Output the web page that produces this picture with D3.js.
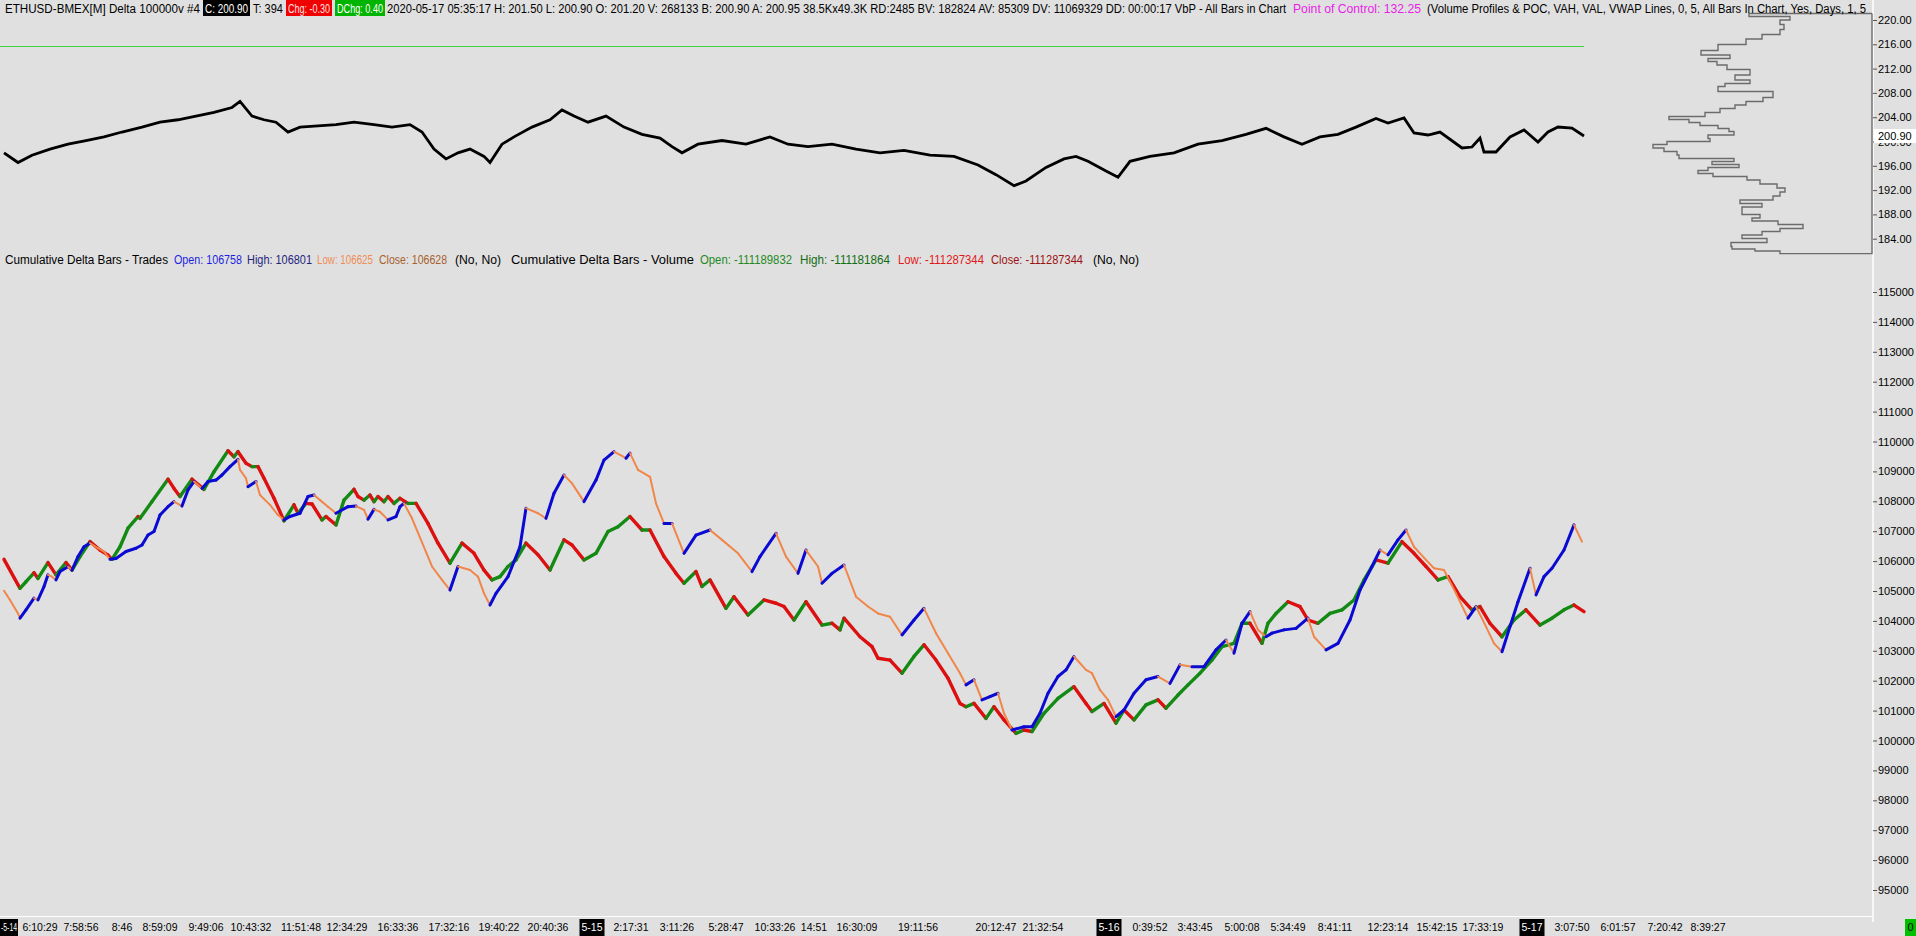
<!DOCTYPE html>
<html>
<head>
<meta charset="utf-8">
<script src="https://cdn.jsdelivr.net/npm/d3@7"></script>
<style>
  body { margin: 0; background: #e0e0e0; overflow: hidden; }
  svg { display: block; }
  text { font-family: "Liberation Sans", Arial, sans-serif; font-size: 12px; }
</style>
</head>
<body>
<svg id="chart"></svg>
<script>
// ---- data ----
// price bars (bar index, last price) for the top panel
const priceLine = [
  [2,198.14],[9,196.54],[16,197.75],[25,198.75],[34,199.56],[43,200.16],[52,200.76],[61,201.56],
  [71,202.37],[80,203.18],[89,203.58],[98,204.18],[107,204.79],[116,205.60],[120,206.60],[126,204.18],
  [132,203.58],[138,203.18],[144,201.56],[150,202.37],[159,202.57],[168,202.78],[177,203.18],[187,202.78],
  [196,202.37],[205,202.78],[211,201.56],[217,198.75],[223,197.14],[229,198.14],[235,198.75],[242,197.55],
  [245,196.54],[251,199.56],[257,200.76],[266,202.37],[275,203.58],[281,205.19],[287,204.18],[294,203.18],
  [303,204.18],[312,202.37],[321,201.17],[330,200.56],[336,199.16],[341,198.14],[349,199.56],[361,200.16],
  [373,199.56],[385,200.76],[394,199.56],[404,199.16],[416,199.56],[428,198.75],[440,198.14],[452,198.55],
  [465,197.75],[477,197.55],[489,196.13],[498,194.54],[507,192.72],[513,193.51],[523,195.74],[532,197.14],
  [538,197.55],[544,196.74],[553,195.13],[559,194.12],[565,196.74],[575,197.55],[587,198.14],[599,199.56],
  [611,200.16],[623,201.17],[633,202.17],[642,200.76],[651,199.56],[660,200.76],[669,201.17],[678,202.37],
  [688,203.79],[694,203.05],[702,203.87],[707,201.40],[714,201.07],[720,201.56],[731,198.93],[736,199.09],
  [740,200.58],[742,198.27],[748,198.27],[755,200.74],[762,201.89],[769,199.92],[774,201.56],[779,202.39],
  [786,202.22],[792,200.90]
];
const lastPrice = 200.90;
const studyLevel = 215.64;   // green study line
const priceTicks = [184, 188, 192, 196, 200, 204, 208, 212, 216, 220];

// volume by price (price, volume in hundreds of contracts)
const profileLevels = [
  [220.82,1230],[220.33,820],[219.67,920],[218.85,880],[218.03,920],[217.20,1100],[216.54,1260],[215.39,1540],
  [214.57,1710],[213.91,1420],[213.42,1640],[212.92,1550],[212.26,1450],[211.44,1220],[210.45,1370],[209.80,1220],
  [209.30,1470],[208.81,1540],[207.65,990],[206.83,1090],[206.34,1260],[205.68,1370],[205.19,1520],[204.36,1670],
  [203.87,2030],[203.37,1830],[202.88,1720],[202.39,1540],[201.89,1430],[201.40,1380],[200.74,1640],[200.25,1620],
  [199.75,2050],[199.26,2190],[198.60,2080],[198.11,1950],[197.45,1930],[196.95,1380],[196.46,1600],[195.97,1330],
  [195.47,1640],[194.98,1740],[194.49,1590],[193.99,1250],[193.33,1120],[192.67,950],[192.02,870],[191.36,920],
  [190.70,990],[190.04,1320],[189.55,1100],[188.89,1300],[188.23,1300],[187.74,1120],[187.08,1200],[186.75,940],
  [185.93,690],[185.42,920],[184.94,1100],[184.28,1300],[183.79,1050],[182.96,1410],[182.47,1400],[182.14,1170],
  [181.80,920]
];

// cumulative delta - trades (bar index, value)
const tradesDelta = [
  [2,105010],[5,104700],[9,104250],[10,104090],[13,104370],[17,104760],[19,104700],[22,105150],[24,105540],
  [26,105480],[28,105370],[30,105650],[34,105810],[36,105700],[39,106150],[42,106480],[45,106600],[49,106430],
  [52,106320],[55,106060],[58,106090],[63,106320],[68,106430],[71,106540],[74,106870],[77,106990],[80,107540],
  [84,107820],[87,107990],[91,107840],[94,108380],[97,108660],[101,108430],[104,108660],[108,108710],[111,108880],
  [115,109160],[119,109400],[120,109050],[123,108770],[124,108490],[128,108660],[130,108210],[135,107880],
  [139,107540],[142,107380],[145,107490],[150,107600],[154,108160],[157,108210],[160,108040],[164,107820],
  [168,107600],[174,107820],[178,107840],[182,107710],[184,107400],[187,107730],[190,107650],[194,107380],
  [198,107490],[200,107820],[202,107930],[206,107430],[216,105820],[221,105370],[225,105030],[229,105820],
  [235,105700],[239,105480],[242,104920],[245,104530],[248,104920],[254,105480],[260,106480],[263,107770],
  [269,107600],[273,107430],[277,108270],[282,108880],[286,108600],[292,107990],[298,108710],[302,109380],
  [307,109660],[313,109440],[315,109610],[319,109050],[325,108820],[328,107930],[332,107260],[336,107260],
  [342,106260],[348,106870],[355,107040],[361,106710],[369,106260],[376,105650],[380,106150],[388,106930],
  [393,106150],[399,105590],[403,106370],[409,105820],[411,105260],[416,105590],[422,105870],[428,104810],
  [434,104480],[439,104250],[445,104140],[451,103530],[457,104030],[462,104420],[468,103590],[474,102920],
  [480,102250],[483,101860],[487,102030],[491,101360],[495,101470],[499,101580],[502,100910],[506,100350],
  [512,100460],[516,100460],[520,100910],[524,101580],[529,102140],[533,102360],[537,102810],[543,102360],
  [546,102250],[550,101690],[554,101360],[558,100800],[562,101020],[567,101580],[573,102030],[579,102140],
  [585,101910],[590,102530],[596,102470],[602,102470],[608,103030],[613,103360],[617,102920],[621,103920],
  [625,104310],[629,103700],[633,103470],[636,103590],[642,103700],[648,103750],[654,104090],[657,103470],
  [663,103030],[669,103250],[675,104030],[680,105030],[686,105820],[690,106370],[694,106210],[699,106710],
  [703,107040],[707,106480],[713,106040],[717,105760],[722,105700],[728,104920],[734,104090],[738,104480],
  [743,103810],[747,103250],[751,102970],[755,103810],[759,104640],[765,105760],[768,104870],[772,105480],
  [776,105760],[782,106370],[787,107210],[791,106650]
];

// cumulative delta - volume (bar index, value on the shared scale)
const volumeDelta = [
  [2,106060],[10,105090],[13,105310],[17,105610],[19,105420],[24,105950],[28,105540],[33,105950],[36,105700],
  [40,106150],[45,106650],[50,106370],[54,106200],[56,106060],[60,106480],[64,107100],[69,107490],[70,107430],
  [76,107990],[84,108740],[87,108430],[90,108160],[96,108740],[102,108400],[107,108990],[114,109690],[117,109490],
  [119,109660],[123,109270],[126,109160],[129,109160],[132,108770],[137,108100],[142,107350],[147,107880],
  [149,107600],[153,107930],[156,107910],[161,107380],[163,107490],[168,107210],[172,108040],[177,108400],
  [179,108160],[182,108040],[185,108210],[187,107990],[189,108160],[192,107990],[194,108160],[197,107930],
  [200,108100],[204,107930],[208,107930],[214,107260],[219,106600],[225,105930],[231,106600],[237,106260],
  [242,105700],[246,105370],[250,105480],[254,105820],[258,106040],[263,106600],[269,106210],[275,105700],
  [282,106710],[286,106540],[292,106040],[298,106260],[304,106990],[309,107150],[315,107490],[321,107040],
  [325,107040],[332,106150],[338,105590],[342,105260],[348,105650],[351,105150],[355,105370],[363,104420],
  [367,104810],[374,104200],[382,104700],[388,104590],[392,104480],[397,104030],[403,104640],[411,103860],
  [416,103920],[420,103700],[422,104090],[430,103470],[436,103140],[439,102750],[445,102690],[451,102250],
  [457,102810],[462,103200],[468,102690],[474,102080],[480,101240],[483,101130],[487,101240],[493,100740],
  [497,101130],[502,100690],[508,100240],[512,100350],[516,100300],[522,100910],[529,101410],[537,101800],
  [543,101240],[546,100970],[552,101240],[558,100580],[562,101020],[567,100690],[573,101190],[579,101360],
  [583,101080],[589,101520],[594,101860],[600,102250],[606,102690],[611,103140],[617,103250],[621,103920],
  [625,103920],[631,103250],[634,103920],[638,104250],[644,104640],[650,104480],[654,104030],[659,103920],
  [665,104250],[671,104370],[677,104700],[682,105370],[688,106040],[694,105930],[701,106650],[707,106260],
  [713,105820],[719,105370],[724,105480],[730,104810],[736,104370],[740,104480],[745,103920],[751,103470],
  [757,104030],[763,104370],[770,103860],[776,104090],[782,104370],[787,104530],[792,104310]
];
const deltaTicks = d3.range(95000, 115001, 1000);

// time scale labels (bar index, label, is a date marker)
const timeLabels = [
  [0,"-5-14",true],[20,"6:10:29",false],[40.5,"7:58:56",false],[61,"8:46",false],[80,"8:59:09",false],
  [103,"9:49:06",false],[125.5,"10:43:32",false],[150.5,"11:51:48",false],[173.5,"12:34:29",false],
  [199,"16:33:36",false],[224.5,"17:32:16",false],[249.5,"19:40:22",false],[274,"20:40:36",false],
  [296,"5-15",true],[315.5,"2:17:31",false],[338.5,"3:11:26",false],[363,"5:28:47",false],
  [387.5,"10:33:26",false],[407,"14:51",false],[428.5,"16:30:09",false],[459,"19:11:56",false],
  [498,"20:12:47",false],[521.5,"21:32:54",false],[554.5,"5-16",true],[575,"0:39:52",false],
  [597.5,"3:43:45",false],[621,"5:00:08",false],[644,"5:34:49",false],[667.5,"8:41:11",false],
  [694,"12:23:14",false],[718.5,"15:42:15",false],[741.5,"17:33:19",false],[766,"5-17",true],
  [786,"3:07:50",false],[809,"6:01:57",false],[832.5,"7:20:42",false],[854,"8:39:27",false]
];

// ---- drawing ----
const W = 1916, H = 936;
const axisX = 1873;
const font = '"Liberation Sans", Arial, sans-serif';

const svg = d3.select("#chart").attr("width", W).attr("height", H);
svg.append("rect").attr("width", W).attr("height", H).attr("fill", "#e0e0e0");

const defs = svg.append("defs");
defs.append("clipPath").attr("id", "plotClip")
  .append("rect").attr("x", 0).attr("y", 0).attr("width", axisX - 1).attr("height", 916);

const xScale = d3.scaleLinear().domain([0, 935]).range([0, 1870]);
const priceScale = d3.scaleLinear().domain([184, 220]).range([238.7, 20]);
const deltaScale = d3.scaleLinear().domain([95000, 115000]).range([890, 292]);
const volScale = d3.scaleLinear().domain([0, 2200]).range([axisX - 1, axisX - 221]);

// axis frame lines
svg.append("line").attr("x1", axisX).attr("x2", axisX).attr("y1", 0).attr("y2", 922)
  .attr("stroke", "#ffffff").attr("stroke-width", 1.5);
svg.append("line").attr("x1", 0).attr("x2", axisX).attr("y1", 916.5).attr("y2", 916.5)
  .attr("stroke", "#ffffff").attr("stroke-width", 1.2);

const plot = svg.append("g").attr("clip-path", "url(#plotClip)");

// green study line
plot.append("line")
  .attr("x1", xScale(0)).attr("x2", xScale(792))
  .attr("y1", priceScale(studyLevel)).attr("y2", priceScale(studyLevel))
  .attr("stroke", "#3fd43f").attr("stroke-width", 1.2);

// price line
plot.append("path")
  .datum(priceLine)
  .attr("fill", "none")
  .attr("stroke", "#000")
  .attr("stroke-width", 2.8)
  .attr("stroke-linejoin", "miter")
  .attr("d", d3.line().x(d => xScale(d[0])).y(d => priceScale(d[1])));

// volume profile outline (bars grow leftwards from the axis)
let profilePts = [];
profileLevels.forEach((d, i) => {
  const prev = profileLevels[i - 1], next = profileLevels[i + 1];
  const top = prev ? (prev[0] + d[0]) / 2 : d[0] + 0.25;
  const bot = next ? (next[0] + d[0]) / 2 : d[0] - 0.25;
  if (i === 0) profilePts.push([volScale(0), priceScale(top)]);
  profilePts.push([volScale(d[1]), priceScale(top)]);
  profilePts.push([volScale(d[1]), priceScale(bot)]);
  if (i === profileLevels.length - 1) profilePts.push([volScale(0), priceScale(bot)]);
});
profilePts.push([volScale(0), profilePts[0][1]]);
svg.append("path")
  .datum(profilePts)
  .attr("fill", "none")
  .attr("stroke", "#6b6b6b")
  .attr("stroke-width", 1.4)
  .attr("d", d3.line());

// cumulative delta bars, coloured by direction
function drawDelta(series, upColor, downColor, upWidth, downWidth) {
  const segs = d3.pairs(series);
  plot.append("g").selectAll("line")
    .data(segs)
    .join("line")
      .attr("x1", d => xScale(d[0][0]))
      .attr("y1", d => deltaScale(d[0][1]))
      .attr("x2", d => xScale(d[1][0]))
      .attr("y2", d => deltaScale(d[1][1]))
      .attr("stroke", d => d[1][1] >= d[0][1] ? upColor : downColor)
      .attr("stroke-width", d => d[1][1] >= d[0][1] ? upWidth : downWidth)
      .attr("stroke-linecap", "round");
}
drawDelta(volumeDelta, "#138a13", "#dc1010", 3.4, 3.4);
drawDelta(tradesDelta, "#0a0ad2", "#f0864a", 3, 2);

// right price axis (top panel)
const priceAxis = d3.axisRight(priceScale)
  .tickValues(priceTicks)
  .tickFormat(d3.format(".2f"))
  .tickSize(4)
  .tickPadding(1);
const pAxisG = svg.append("g").attr("transform", `translate(${axisX},0)`).call(priceAxis);
pAxisG.select(".domain").remove();
pAxisG.selectAll(".tick line").attr("stroke", "#555");
pAxisG.selectAll("text").attr("fill", "#000").style("font-size", "11px").style("font-family", font);

// current price marker
const lpY = priceScale(lastPrice);
svg.append("rect").attr("x", axisX + 1).attr("y", lpY - 7).attr("width", W - axisX - 1).attr("height", 14)
  .attr("fill", "#ffffff");
svg.append("text").attr("x", axisX + 5).attr("y", lpY + 4).attr("fill", "#000")
  .style("font-size", "11px").text(lastPrice.toFixed(2));

// right delta axis (bottom panel)
const deltaAxis = d3.axisRight(deltaScale)
  .tickValues(deltaTicks)
  .tickFormat(d3.format("d"))
  .tickSize(4)
  .tickPadding(1);
const dAxisG = svg.append("g").attr("transform", `translate(${axisX},0)`).call(deltaAxis);
dAxisG.select(".domain").remove();
dAxisG.selectAll(".tick line").attr("stroke", "#555");
dAxisG.selectAll("text").attr("fill", "#000").style("font-size", "11px").style("font-family", font);

// time axis
const tAxis = svg.append("g");
const tBoxes = tAxis.append("g"), tTexts = tAxis.append("g");
timeLabels.forEach(d => {
  const cx = xScale(d[0]);
  const t = tTexts.append("text").attr("y", 931)
    .style("font-size", "10.5px")
    .attr("fill", d[2] ? "#fff" : "#000").text(d[1]);
  const w = t.node().getComputedTextLength();
  if (cx - w / 2 < 1) {
    // label at the left edge is squeezed into the space before the first tick
    t.attr("x", 1).attr("textLength", 16).attr("lengthAdjust", "spacingAndGlyphs");
    tBoxes.append("rect").attr("x", 0).attr("y", 919).attr("width", 18).attr("height", 17).attr("fill", "#000");
    return;
  }
  t.attr("x", cx).attr("text-anchor", "middle");
  if (d[2]) {
    tBoxes.append("rect").attr("x", cx - w / 2 - 2).attr("y", 919)
      .attr("width", w + 4).attr("height", 17).attr("fill", "#000");
  }
});
svg.append("rect").attr("x", 1905).attr("y", 919).attr("width", 11).attr("height", 17).attr("fill", "#00c000");
svg.append("text").attr("x", 1907.5).attr("y", 931).attr("fill", "#000").style("font-size", "11px").text("0");

// header lines: [x, right edge, text, colour, background]
const topHeader = [
  [5, 200, "ETHUSD-BMEX[M]  Delta 100000v  #4", "#000", null],
  [205, 248, "C: 200.90", "#fff", "#000"],
  [253, 283, "T: 394", "#000", null],
  [288, 330, "Chg: -0.30", "#ffe0e0", "#f00000"],
  [337, 383, "DChg: 0.40", "#ffffff", "#00b400"],
  [387, 1286, "2020-05-17 05:35:17 H: 201.50 L: 200.90 O: 201.20 V: 268133 B: 200.90 A: 200.95 38.5Kx49.3K RD:2485 BV: 182824 AV: 85309 DV: 11069329 DD: 00:00:17 VbP - All Bars in Chart", "#000", null],
  [1293, 1421, "Point of Control: 132.25", "#e81ee8", null],
  [1427, 1866, "(Volume Profiles & POC, VAH, VAL, VWAP Lines, 0, 5, All Bars In Chart, Yes, Days, 1, 5", "#000", null]
];
const deltaHeader = [
  [5, 168, "Cumulative Delta Bars - Trades", "#000"],
  [174, 242, "Open: 106758", "#1e1ee0"],
  [247, 312, "High: 106801", "#25257e"],
  [317, 373, "Low: 106625", "#f08c55"],
  [379, 447, "Close: 106628", "#a8602c"],
  [455, 501, "(No, No)", "#000"],
  [511, 694, "Cumulative Delta Bars - Volume", "#000"],
  [700, 792, "Open: -111189832", "#1f8a1f"],
  [800, 890, "High: -111181864", "#126e12"],
  [898, 984, "Low: -111287344", "#e01818"],
  [991, 1083, "Close: -111287344", "#9c1212"],
  [1093, 1139, "(No, No)", "#000"]
];

const hdr = svg.append("g");
topHeader.forEach(d => {
  if (d[4]) {
    hdr.append("rect").attr("x", d[0] - 2).attr("y", 0).attr("width", d[1] - d[0] + 4).attr("height", 16)
      .attr("fill", d[4]);
  }
  hdr.append("text").attr("x", d[0]).attr("y", 12.5).attr("fill", d[3])
    .attr("textLength", d[1] - d[0]).attr("lengthAdjust", "spacingAndGlyphs").text(d[2]);
});
deltaHeader.forEach(d => {
  hdr.append("text").attr("x", d[0]).attr("y", 264).attr("fill", d[3])
    .attr("textLength", d[1] - d[0]).attr("lengthAdjust", "spacingAndGlyphs").text(d[2]);
});
</script>
</body>
</html>
